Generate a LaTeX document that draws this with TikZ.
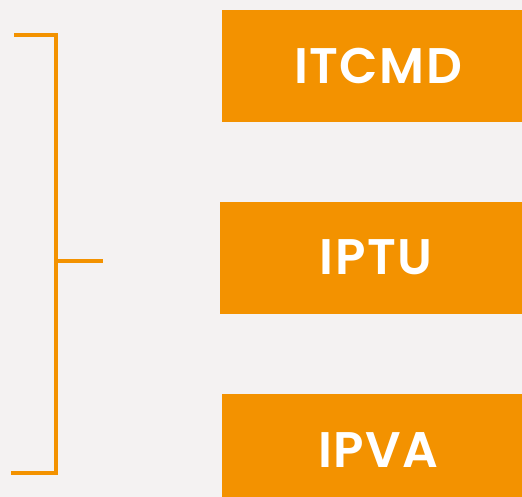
\documentclass[tikz,border=0pt]{standalone}
\usepackage{fontspec}
\newfontfamily\taxfont{Poppins SemiBold}[LetterSpace=3]
\usetikzlibrary{positioning}

\definecolor{taxorange}{HTML}{F39200}
\definecolor{paper}{HTML}{F4F2F2}

\begin{document}
\begin{tikzpicture}[x=1pt,y=-1pt,node distance=79pt,
		tax box/.style={rectangle,fill=taxorange,text=white,minimum width=312pt,minimum height=112pt,inner sep=0pt,font=\taxfont\fontsize{50}{50}\selectfont},
		brace line/.style={draw=taxorange,line width=4pt}]
		% fundo
		\fill[paper] (0,0) rectangle (522,497);
		\useasboundingbox (0,0) rectangle (522,497);
		\clip (0,0) rectangle (522,497);
		
		\node[tax box,anchor=north west] (itcmd) at (222,10) {\raisebox{-2pt}{ITCMD}};
		\node[tax box,xshift=-2pt] (iptu) [below=79pt of itcmd] {\raisebox{-2pt}{IPTU}};
		\node[tax box,xshift=2pt] (ipva) [below=80pt of iptu] {\raisebox{-2pt}{IPVA}};
		
		% chave
		\coordinate (top) at (14,35);
		\coordinate (bottom) at (11,473);
		\coordinate (tick) at (103,261);
		\draw[brace line] (top) -| (56,473) -- (bottom);
		\draw[brace line] (56,261) -- (tick);
\end{tikzpicture}
\end{document}
